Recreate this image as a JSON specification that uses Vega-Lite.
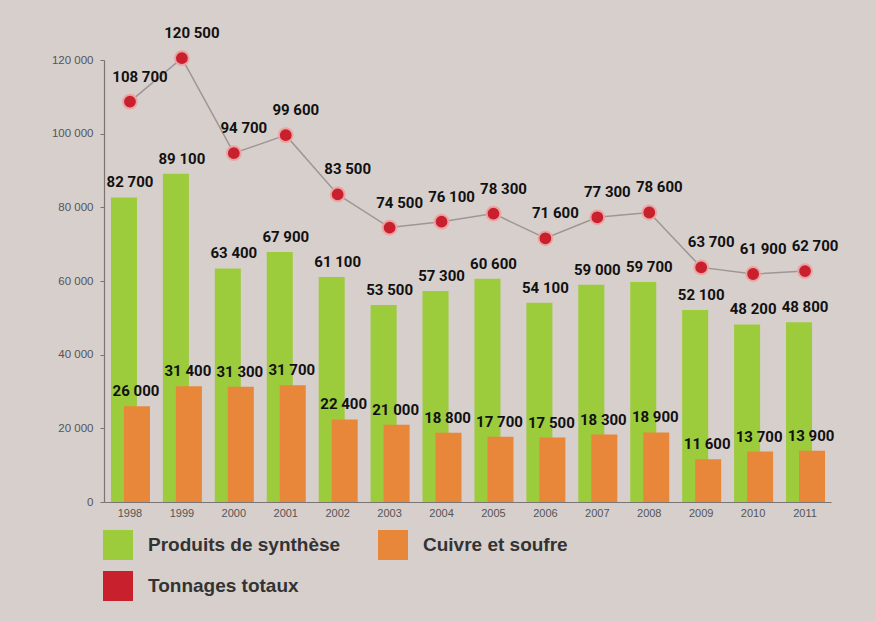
{
  "$schema": "https://vega.github.io/schema/vega-lite/v6.json",
  "width": 727,
  "height": 442,
  "autosize": {"type": "none"},
  "padding": {"left": 104, "top": 60, "right": 45, "bottom": 119},
  "background": "#d7cfcc",
  "config": {
    "view": {"stroke": null},
    "locale": {"number": {"decimal": ",", "thousands": " ", "grouping": [3], "currency": ["", " €"]}},
    "axis": {"labelFont": "Liberation Sans", "labelColor": "#555", "labelFontSize": 11, "domainColor": "#7a7574", "tickColor": "#7a7574", "grid": false, "title": null},
    "legend": {"symbolType": "square"}
  },
  "data": {
    "values": [
      {"year": "1998", "serie": "Produits de synthèse", "value": 82700},
      {"year": "1999", "serie": "Produits de synthèse", "value": 89100},
      {"year": "2000", "serie": "Produits de synthèse", "value": 63400},
      {"year": "2001", "serie": "Produits de synthèse", "value": 67900},
      {"year": "2002", "serie": "Produits de synthèse", "value": 61100},
      {"year": "2003", "serie": "Produits de synthèse", "value": 53500},
      {"year": "2004", "serie": "Produits de synthèse", "value": 57300},
      {"year": "2005", "serie": "Produits de synthèse", "value": 60600},
      {"year": "2006", "serie": "Produits de synthèse", "value": 54100},
      {"year": "2007", "serie": "Produits de synthèse", "value": 59000},
      {"year": "2008", "serie": "Produits de synthèse", "value": 59700},
      {"year": "2009", "serie": "Produits de synthèse", "value": 52100},
      {"year": "2010", "serie": "Produits de synthèse", "value": 48200},
      {"year": "2011", "serie": "Produits de synthèse", "value": 48800},
      {"year": "1998", "serie": "Cuivre et soufre", "value": 26000},
      {"year": "1999", "serie": "Cuivre et soufre", "value": 31400},
      {"year": "2000", "serie": "Cuivre et soufre", "value": 31300},
      {"year": "2001", "serie": "Cuivre et soufre", "value": 31700},
      {"year": "2002", "serie": "Cuivre et soufre", "value": 22400},
      {"year": "2003", "serie": "Cuivre et soufre", "value": 21000},
      {"year": "2004", "serie": "Cuivre et soufre", "value": 18800},
      {"year": "2005", "serie": "Cuivre et soufre", "value": 17700},
      {"year": "2006", "serie": "Cuivre et soufre", "value": 17500},
      {"year": "2007", "serie": "Cuivre et soufre", "value": 18300},
      {"year": "2008", "serie": "Cuivre et soufre", "value": 18900},
      {"year": "2009", "serie": "Cuivre et soufre", "value": 11600},
      {"year": "2010", "serie": "Cuivre et soufre", "value": 13700},
      {"year": "2011", "serie": "Cuivre et soufre", "value": 13900},
      {"year": "1998", "serie": "Tonnages totaux", "value": 108700},
      {"year": "1999", "serie": "Tonnages totaux", "value": 120500},
      {"year": "2000", "serie": "Tonnages totaux", "value": 94700},
      {"year": "2001", "serie": "Tonnages totaux", "value": 99600},
      {"year": "2002", "serie": "Tonnages totaux", "value": 83500},
      {"year": "2003", "serie": "Tonnages totaux", "value": 74500},
      {"year": "2004", "serie": "Tonnages totaux", "value": 76100},
      {"year": "2005", "serie": "Tonnages totaux", "value": 78300},
      {"year": "2006", "serie": "Tonnages totaux", "value": 71600},
      {"year": "2007", "serie": "Tonnages totaux", "value": 77300},
      {"year": "2008", "serie": "Tonnages totaux", "value": 78600},
      {"year": "2009", "serie": "Tonnages totaux", "value": 63700},
      {"year": "2010", "serie": "Tonnages totaux", "value": 61900},
      {"year": "2011", "serie": "Tonnages totaux", "value": 62700}
    ]
  },
  "encoding": {
    "x": {"field": "year", "type": "nominal", "scale": {"paddingInner": 0, "paddingOuter": 0},
      "axis": {"labelAngle": 0, "ticks": false, "labelPadding": 5, "domainWidth": 1.2}},
    "y": {"field": "value", "type": "quantitative", "scale": {"domain": [0, 120000], "nice": false},
      "axis": {"values": [0, 20000, 40000, 60000, 80000, 100000, 120000], "format": ",.0f", "tickSize": 4, "labelPadding": 7, "domainWidth": 1.2, "labelFontSize": 11.5}}
  },
  "layer": [
    {
      "transform": [{"filter": "datum.serie === 'Produits de synthèse'"}],
      "mark": {"type": "bar", "width": 26, "xOffset": -6},
      "encoding": {
        "color": {"field": "serie", "type": "nominal",
          "scale": {"domain": ["Produits de synthèse", "Cuivre et soufre", "Tonnages totaux"], "range": ["#9ccb3b", "#e8873a", "#c8202d"]},
          "legend": {"orient": "none", "legendX": -1, "legendY": 470, "columns": 2, "direction": "horizontal", "title": null,
            "padding": 0, "symbolType": "square", "symbolSize": 900, "symbolStrokeWidth": 0, "symbolOpacity": 1,
            "labelFont": "Liberation Sans", "labelFontWeight": "bold", "labelFontSize": 19, "labelColor": "#333",
            "labelOffset": 15, "labelLimit": 400, "columnPadding": 37, "rowPadding": 11}}
      }
    },
    {
      "transform": [{"filter": "datum.serie === 'Cuivre et soufre'"}],
      "mark": {"type": "bar", "width": 26, "xOffset": 7},
      "encoding": {"color": {"field": "serie", "type": "nominal"}}
    },
    {
      "transform": [{"filter": "datum.serie === 'Tonnages totaux'"}],
      "mark": {"type": "line", "color": "#9d9694", "strokeWidth": 1.5},
      "encoding": {}
    },
    {
      "transform": [{"filter": "datum.serie === 'Tonnages totaux'"}],
      "mark": {"type": "point", "filled": true, "size": 190, "stroke": "#eba3a3", "strokeWidth": 2, "opacity": 1},
      "encoding": {"color": {"field": "serie", "type": "nominal"}}
    },
    {
      "transform": [{"filter": "datum.serie === 'Produits de synthèse'"}],
      "mark": {"type": "text", "font": "Roboto", "fontWeight": "bold", "fontSize": 15, "color": "#111", "dy": -10, "baseline": "alphabetic"},
      "encoding": {"text": {"field": "value", "type": "quantitative", "format": ",.0f"}}
    },
    {
      "transform": [{"filter": "datum.serie === 'Cuivre et soufre'"}],
      "mark": {"type": "text", "font": "Roboto", "fontWeight": "bold", "fontSize": 15, "color": "#111", "dx": 6, "dy": -10, "baseline": "alphabetic"},
      "encoding": {"text": {"field": "value", "type": "quantitative", "format": ",.0f"}}
    },
    {
      "transform": [{"filter": "datum.serie === 'Tonnages totaux'"}],
      "mark": {"type": "text", "font": "Roboto", "fontWeight": "bold", "fontSize": 15, "color": "#111", "dx": 10, "dy": -20, "baseline": "alphabetic"},
      "encoding": {"text": {"field": "value", "type": "quantitative", "format": ",.0f"}}
    }
  ]
}
